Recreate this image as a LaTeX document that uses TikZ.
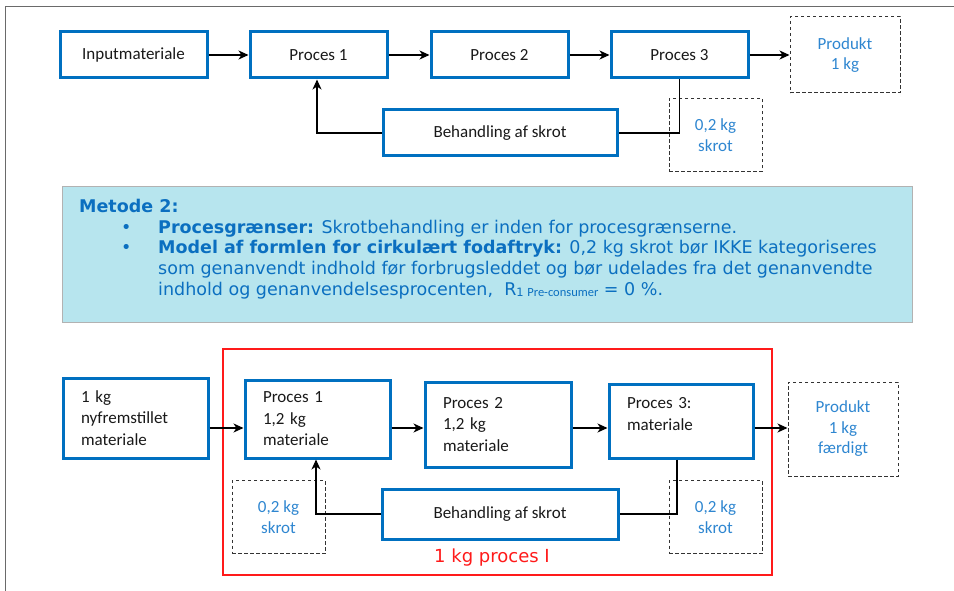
\documentclass[tikz,border=0pt]{standalone}
\usepackage{fontspec}
\setmainfont{Carlito}
\newfontfamily\verd{DejaVu Sans}
\usetikzlibrary{arrows.meta}

\definecolor{blaa}{HTML}{0070C0}
\definecolor{tekstblaa}{HTML}{2E86D0}
\definecolor{infoblaa}{HTML}{0B6FC0}
\definecolor{cyanfyld}{HTML}{B7E5EE}
\definecolor{roed}{HTML}{FF1A1A}
\definecolor{rammegraa}{HTML}{6A6A6A}

\begin{document}
\begin{tikzpicture}[x=1pt,y=-1pt,
		boks/.style={rectangle,draw=blaa,line width=3pt,minimum width=137pt,minimum height=46pt,
			font=\fontsize{17}{21.5}\selectfont,text=black!90},
		boksv/.style={boks,align=left,inner xsep=0pt},
		stiplet/.style={rectangle,draw=black!80,line width=1pt,dash pattern=on 3.5pt off 2.5pt,
			minimum width=93pt,minimum height=73pt,align=center,text=tekstblaa,
			font=\fontsize{17}{20.5}\selectfont},
		pil/.style={-{Stealth[length=10pt,width=9pt,inset=3pt]},line width=1.1pt,black},
		linje/.style={line width=1.1pt,black}]
	\useasboundingbox (0,0) rectangle (954,591);
	\draw[rammegraa,line width=1.4pt] (5.5,591) -- (5.5,6.5) -- (954,6.5);

	% metode 1
	\node[boks,minimum width=147pt] (input) at (133.5,55) {Inputmateriale};
	\node[boks] (proces1) at (318.5,55) {Proces 1};
	\node[boks] (proces2) at (499.5,55) {Proces 2};
	\node[boks] (proces3) at (679.5,55) {Proces 3};
	\node[stiplet,minimum width=110pt,minimum height=76pt] (produkt) at (845,55) {Produkt\\1 kg};
	\node[boks,minimum width=234pt] (behandling) at (500,133) {Behandling af skrot};
	\node[stiplet] (skrot) at (715.5,135) {0,2 kg\\skrot};

	\draw[pil] (input.east) -- (proces1.west);
	\draw[pil] (proces1.east) -- (proces2.west);
	\draw[pil] (proces2.east) -- (proces3.west);
	\draw[pil] (proces3.east) -- (produkt.west);
	\draw[linje] (proces3.south) |- (behandling.east);
	\draw[pil] (behandling.west) -| ([xshift=-1.5pt]proces1.south);

	% tekstboks
	\node[rectangle,draw=black!30,line width=1pt,fill=cyanfyld,minimum width=850pt,minimum height=135pt]
		(metode) at (487,254.5) {};
	\node[anchor=north west,inner sep=0pt,align=left,text=infoblaa,
		font=\verd\fontsize{17.5}{20.7}\selectfont] (metodetekst) at (79,199) {%
		{\bfseries Metode 2:}\\
		\hspace*{42pt}\makebox[37pt][l]{•}{\bfseries Procesgrænser:} Skrotbehandling er inden for procesgrænserne.\\
		\hspace*{42pt}\makebox[37pt][l]{•}{\bfseries Model af formlen for cirkulært fodaftryk:} 0,2 kg skrot bør IKKE kategoriseres\\
		\hspace*{79pt}som genanvendt indhold før forbrugsleddet og bør udelades fra det genanvendte\\
		\hspace*{79pt}indhold og genanvendelsesprocenten,\ \ R\raisebox{-1.5pt}{\fontsize{11.5}{11}\selectfont 1 {\rmfamily\fontsize{12.5}{12}\selectfont Pre-consumer}} = 0 \%.};

	% metode 2
	\node[rectangle,draw=roed,line width=2pt,minimum width=549pt,minimum height=226pt] (graense) at (497.5,462) {};
	\node[text=roed,font=\verd\fontsize{18}{20}\selectfont] (graensetekst) at (492,558) {1 kg proces I};

	\node[boksv,minimum width=145pt,minimum height=80pt,text width=109pt] (nyt) at (135.5,418) {1 kg\\nyfremstillet\\materiale};
	\node[boksv,minimum width=145pt,minimum height=78pt,text width=109pt] (trin1) at (317.5,419) {Proces 1\\1,2 kg\\materiale};
	\node[boksv,minimum width=146pt,minimum height=85pt,text width=110pt] (trin2) at (498,424.5) {Proces 2\\1,2 kg\\materiale};
	\node[boksv,minimum width=144pt,minimum height=74pt,text width=108pt] (trin3) at (681,421) {Proces 3:\\materiale\rule[-14pt]{0pt}{1pt}};
	\node[stiplet,minimum width=110pt,minimum height=94pt] (faerdigt) at (843,429) {Produkt\\1 kg\\færdigt};
	\node[boks,minimum width=236pt,minimum height=50pt] (behandling2) at (500,514) {Behandling af skrot};
	\node[stiplet] (skrotv) at (278.5,517) {0,2 kg\\skrot};
	\node[stiplet] (skroth) at (715.5,517) {0,2 kg\\skrot};

	\draw[pil] (nyt.east |- 0,428) -- (trin1.west |- 0,428);
	\draw[pil] (trin1.east |- 0,428) -- (trin2.west |- 0,428);
	\draw[pil] (trin2.east |- 0,428) -- (trin3.west |- 0,428);
	\draw[pil] (trin3.east |- 0,428) -- (faerdigt.west |- 0,428);
	\draw[linje] ([xshift=-4pt]trin3.south) |- (behandling2.east);
	\draw[pil] (behandling2.west) -| ([xshift=-1.5pt]trin1.south);
\end{tikzpicture}
\end{document}
